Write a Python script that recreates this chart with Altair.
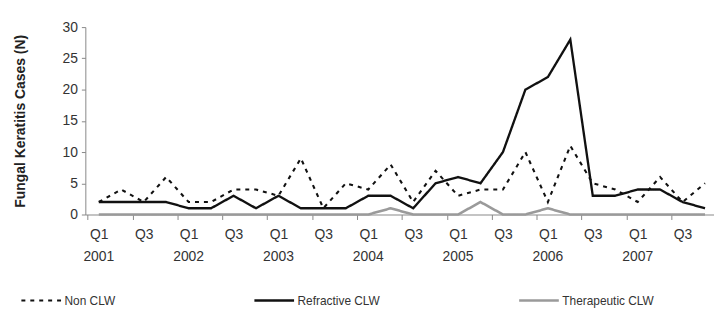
import altair as alt
import pandas as pd

years = ["2001", "2002", "2003", "2004", "2005", "2006", "2007"]
quarters = ["Q1", "Q2", "Q3", "Q4"]
periods = [f"{q} {y}" for y in years for q in quarters]

non_clw = [2, 4, 2, 6, 2, 2, 4, 4, 3, 9, 1, 5, 4, 8, 2, 7, 3, 4, 4, 10, 2, 11, 5, 4, 2, 6, 2, 5]
refractive = [2, 2, 2, 2, 1, 1, 3, 1, 3, 1, 1, 1, 3, 3, 1, 5, 6, 5, 10, 20, 22, 28, 3, 3, 4, 4, 2, 1]
therapeutic = [0, 0, 0, 0, 0, 0, 0, 0, 0, 0, 0, 0, 0, 1, 0, 0, 0, 2, 0, 0, 1, 0, 0, 0, 0, 0, 0, 0]
series_names = ["Non CLW", "Refractive CLW", "Therapeutic CLW"]
y_ticks = [0, 5, 10, 15, 20, 25, 30]

rows = []
for name, vals in zip(series_names, [non_clw, refractive, therapeutic]):
    for i, (p, v) in enumerate(zip(periods, vals)):
        rows.append({"idx": i, "period": p, "series": name, "cases": v})
df = pd.DataFrame(rows)
year_df = pd.DataFrame({"idx": [periods.index(f"Q1 {y}") for y in years], "year": years})

FONT = "Liberation Sans"
W, H = 634, 189
n = len(periods)
lo, hi = -0.6, n - 0.6
step = W / (hi - lo)
tick_positions = [i - 0.5 for i in range(n)]
x_scale = alt.Scale(domain=[lo, hi], nice=False, zero=False)

legend = alt.Legend(
    title=None, orient="none", legendX=-66, legendY=254, direction="horizontal",
    symbolType="stroke", symbolSize=1600, symbolStrokeWidth=2,
    labelFontSize=12, labelFont=FONT, labelColor="#333", columnPadding=134,
    labelOffset=2,
)

lines = alt.Chart(df).mark_line().encode(
    x=alt.X("idx:Q", scale=x_scale,
            axis=alt.Axis(title=None, values=tick_positions,
                          labelExpr="(datum.value+0.5)%4==0 ? 'Q1' : ((datum.value+0.5)%4==2 ? 'Q3' : '')",
                          labelOffset=step / 2, labelFlush=False, labelAngle=0,
                          tickSize=5, labelPadding=8, labelFontSize=14, grid=False,
                          labelOverlap=False, labelColor="#333", domainColor="#888",
                          tickColor="#888", labelFont=FONT)),
    y=alt.Y("cases:Q", scale=alt.Scale(domain=[0, 30], nice=False),
            axis=alt.Axis(values=y_ticks, tickSize=4, grid=False,
                          title="Fungal Keratitis Cases (N)", titleFontSize=14,
                          titleFontWeight="bold", titleFont=FONT, titleColor="#222",
                          labelFontSize=14, labelFont=FONT, labelColor="#333",
                          labelPadding=4, titlePadding=35,
                          domainColor="#888", tickColor="#888")),
    color=alt.Color("series:N", scale=alt.Scale(domain=series_names, range=["#111", "#111", "#9a9a9a"]),
                    legend=legend),
    strokeDash=alt.StrokeDash("series:N", scale=alt.Scale(domain=series_names, range=[[4, 5], [1, 0], [1, 0]]),
                              legend=legend),
    strokeWidth=alt.StrokeWidth("series:N", scale=alt.Scale(domain=series_names, range=[2.1, 2.6, 2]),
                                legend=None),
    order="idx:Q",
)

year_text = alt.Chart(year_df).mark_text(
    baseline="top", fontSize=14, font=FONT, color="#333"
).encode(
    x=alt.X("idx:Q", scale=x_scale),
    y=alt.value(H + 36),
    text="year:N",
)

chart = alt.layer(lines, year_text).properties(
    width=W, height=H,
    autosize=alt.AutoSizeParams(type="none"),
    padding={"left": 78, "top": 18, "right": 0, "bottom": 93},
).configure_view(stroke=None)

chart.save("out.html", embed_options={"renderer": "svg", "actions": False})
